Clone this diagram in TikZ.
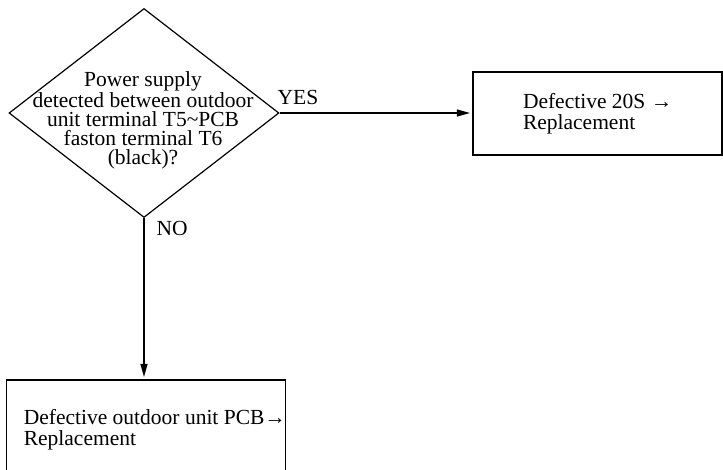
\documentclass[tikz,border=0pt]{standalone}
\usepackage{fontspec}
\setmainfont{Liberation Serif}
\usetikzlibrary{arrows.meta, positioning, calc, shapes.geometric}

\begin{document}
\begin{tikzpicture}[
    x=1pt, y=1pt,
    line width=1.2pt,
    decision/.style={diamond, draw, inner sep=0pt, minimum width=270pt, minimum height=209pt},
    result/.style={rectangle, draw, inner sep=0pt},
    qtext/.style={align=center, inner sep=0pt, font=\fontsize{21.5pt}{19.2pt}\selectfont},
    boxtext/.style={align=left, inner sep=0pt, font=\fontsize{21.5pt}{20.7pt}\selectfont},
    lbl/.style={anchor=base west, inner sep=0pt, font=\fontsize{21.5pt}{21pt}\selectfont},
    flow/.style={-{Triangle[length=13pt, width=7pt]}, line width=1.2pt, shorten >=2.5pt},
]

\useasboundingbox (0,0) rectangle (723,-469);
\clip (0,0) rectangle (723,-469);

% ===== Decision =====
\node[decision] (check) at (144,-113) {};
\node[qtext] (checktext) at ([xshift=-1pt, yshift=-7.5pt]check.center)
  {Power supply\\detected between outdoor\\unit terminal T5\textasciitilde PCB\\faston terminal T6\\(black)?};

% ===== Outcomes =====
\node[result, minimum width=249pt, minimum height=83pt] (yesbox) at (597.5,-113.5) {};
\node[boxtext, right=50pt of yesbox.west] (yestext) {Defective 20S →\\Replacement};

\node[result, minimum width=279pt, minimum height=99pt] (nobox) at (146.3,-429.5) {};
\node[boxtext, right=17pt of nobox.west] (notext) {Defective outdoor unit PCB→\\Replacement};

% ===== Branches =====
\draw[flow] (check.east) -- (check.east -| yesbox.west);
\draw[flow] (check.south) -- (check.south |- nobox.north);

\node[lbl] (yeslbl) at (277,-104.3) {YES};
\node[lbl] (nolbl) at (156,-235) {NO};

\end{tikzpicture}
\end{document}
